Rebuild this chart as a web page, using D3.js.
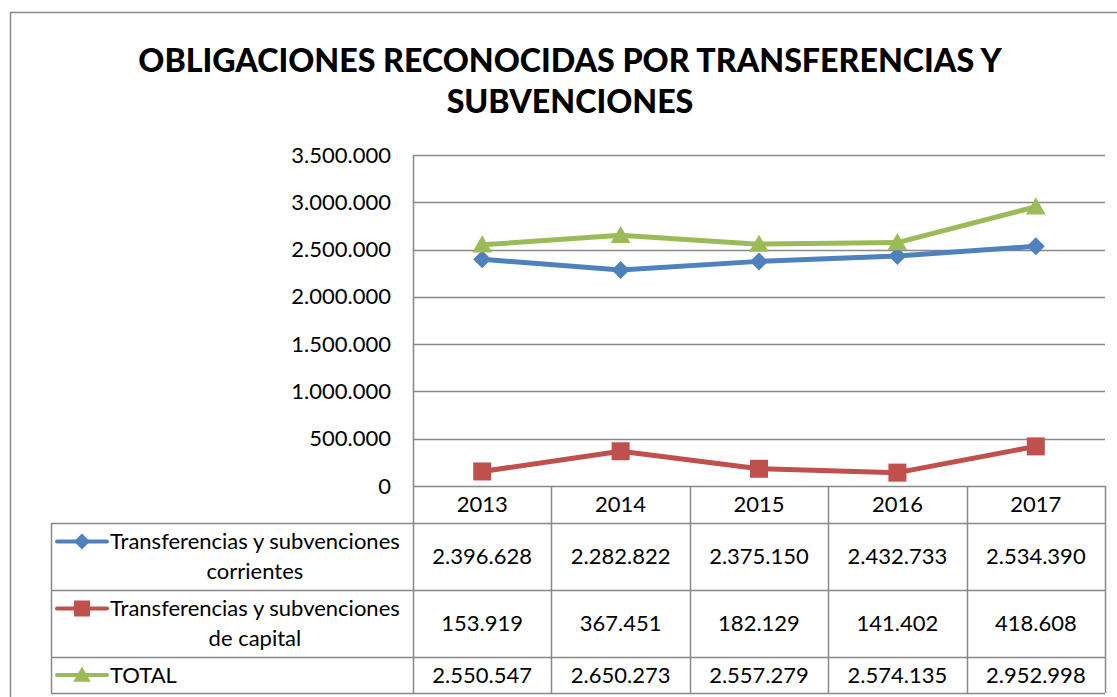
<!DOCTYPE html>
<html>
<head>
<meta charset="utf-8">
<script src="https://cdn.jsdelivr.net/npm/d3@7"></script>
<style>
  html, body { margin: 0; padding: 0; background: #fff; }
  svg { display: block; }
  text { font-family: Lato, "Open Sans", sans-serif; fill: #000; }
</style>
</head>
<body>
<svg id="chart" width="1117" height="697"></svg>
<script>
// ---- data ----
const titleLines = ["OBLIGACIONES RECONOCIDAS POR TRANSFERENCIAS Y", "SUBVENCIONES"];
const years = ["2013", "2014", "2015", "2016", "2017"];
const corrientes = [2396628, 2282822, 2375150, 2432733, 2534390];
const capital = [153919, 367451, 182129, 141402, 418608];
const total = [2550547, 2650273, 2557279, 2574135, 2952998];
const seriesLabels = [
  ["Transferencias y subvenciones", "corrientes"],
  ["Transferencias y subvenciones", "de capital"],
  ["TOTAL"]
];
const yTicks = [0, 500000, 1000000, 1500000, 2000000, 2500000, 3000000, 3500000];

const series = [
  { values: corrientes, label: seriesLabels[0], color: "#4F81BD", symbol: "diamond" },
  { values: capital, label: seriesLabels[1], color: "#C0504D", symbol: "square" },
  { values: total, label: seriesLabels[2], color: "#9BBB59", symbol: "triangle" }
];

// ---- layout ----
const svg = d3.select("#chart");
const plotL = 413, plotR = 1105, plotT = 155, plotB = 486;
const tableL = 51;
const rowBounds = [486, 523, 590, 657, 693]; // header, row1, row2, row3
const gridColor = "#888888";
const fontSize = 22;

const locale = d3.formatLocale({ decimal: ",", thousands: ".", grouping: [3], currency: ["", "€"] });
const fmt = locale.format(",.0f");

const x = d3.scaleBand().domain(years).range([plotL, plotR]);
const y = d3.scaleLinear().domain([0, 3500000]).range([plotB, plotT]);

// outer chart border
svg.append("rect")
  .attr("x", 10.5).attr("y", 12.5).attr("width", 1130).attr("height", 720)
  .attr("fill", "none").attr("stroke", gridColor).attr("stroke-width", 1.5);

// title
svg.append("g").selectAll("text").data(titleLines).join("text")
  .attr("x", 570).attr("y", (d, i) => 72 + i * 41)
  .attr("text-anchor", "middle")
  .style("font-weight", "900").style("font-size", "32.2px")
  .text(d => d);

// gridlines
svg.append("g").selectAll("line").data(yTicks.filter(d => d > 0)).join("line")
  .attr("x1", plotL).attr("x2", plotR)
  .attr("y1", d => Math.round(y(d)) + 0.5).attr("y2", d => Math.round(y(d)) + 0.5)
  .attr("stroke", gridColor).attr("stroke-width", 1.5);

// y axis labels
const yAxis = d3.axisLeft(y).tickValues(yTicks).tickFormat(fmt).tickSize(0).tickPadding(22);
const yg = svg.append("g").attr("transform", `translate(${plotL},0)`).call(yAxis);
yg.select(".domain").remove();
yg.selectAll("text").style("font-size", fontSize + "px").style("font-family", "Lato, sans-serif").attr("fill", "#000");

// table lines
const tg = svg.append("g").attr("stroke", gridColor).attr("stroke-width", 1.5);
tg.append("line").attr("x1", plotL).attr("x2", plotR).attr("y1", plotB + 0.5).attr("y2", plotB + 0.5);
rowBounds.slice(1).forEach(b => {
  tg.append("line").attr("x1", tableL).attr("x2", plotR).attr("y1", b + 0.5).attr("y2", b + 0.5);
});
tg.append("line").attr("x1", plotL + 0.5).attr("x2", plotL + 0.5).attr("y1", plotT).attr("y2", rowBounds[4]);
tg.append("line").attr("x1", tableL + 0.5).attr("x2", tableL + 0.5).attr("y1", rowBounds[1]).attr("y2", rowBounds[4]);
years.forEach(yr => {
  const xr = Math.round(x(yr) + x.bandwidth()) + 0.5;
  tg.append("line").attr("x1", xr).attr("x2", xr).attr("y1", rowBounds[0]).attr("y2", rowBounds[4]);
});

// header year labels
svg.append("g").selectAll("text").data(years).join("text")
  .attr("x", d => x(d) + x.bandwidth() / 2)
  .attr("y", (rowBounds[0] + rowBounds[1]) / 2 + 7.5)
  .attr("text-anchor", "middle").style("font-size", fontSize + "px")
  .text(d => d);

function drawMarker(g, kind, cx, cy, color, s) {
  if (kind === "diamond") {
    g.append("path").attr("d", `M${cx},${cy - s}L${cx + s},${cy}L${cx},${cy + s}L${cx - s},${cy}Z`).attr("fill", color);
  } else if (kind === "square") {
    g.append("rect").attr("x", cx - s).attr("y", cy - s).attr("width", 2 * s).attr("height", 2 * s).attr("fill", color);
  } else {
    g.append("path").attr("d", `M${cx},${cy - s * 1.05}L${cx + s * 1.1},${cy + s * 0.85}L${cx - s * 1.1},${cy + s * 0.85}Z`).attr("fill", color);
  }
}

// lines + markers
const line = d3.line().x((d, i) => x(years[i]) + x.bandwidth() / 2).y(d => y(d));
series.forEach(s => {
  const g = svg.append("g");
  g.append("path").attr("d", line(s.values)).attr("fill", "none")
    .attr("stroke", s.color).attr("stroke-width", 5).attr("stroke-linejoin", "round");
  s.values.forEach((v, i) => {
    drawMarker(g, s.symbol, x(years[i]) + x.bandwidth() / 2, y(v), s.color, 9);
  });
});

// table rows
series.forEach((s, r) => {
  const top = rowBounds[r + 1], bot = rowBounds[r + 2];
  const cy = (top + bot) / 2;
  const g = svg.append("g");
  s.values.forEach((v, i) => {
    g.append("text").attr("x", x(years[i]) + x.bandwidth() / 2).attr("y", cy + 7.5)
      .attr("text-anchor", "middle").style("font-size", fontSize + "px").text(fmt(v));
  });
  const lines = s.label;
  const firstY = lines.length > 1 ? cy - 15 + 7.5 : cy + 7.5;
  const legendY = lines.length > 1 ? cy - 15 : cy;
  g.append("line").attr("x1", 57).attr("x2", 107).attr("y1", legendY).attr("y2", legendY)
    .attr("stroke", s.color).attr("stroke-width", 4).attr("stroke-linecap", "round");
  drawMarker(g, s.symbol, 82, legendY, s.color, 8);
  const t1 = g.append("text").attr("x", 110).attr("y", firstY).style("font-size", fontSize + "px").text(lines[0]);
  if (lines.length > 1) {
    const w = t1.node().getComputedTextLength();
    g.append("text").attr("x", 110 + w / 2).attr("y", firstY + 30)
      .attr("text-anchor", "middle").style("font-size", fontSize + "px").text(lines[1]);
  }
});
</script>
</body>
</html>
